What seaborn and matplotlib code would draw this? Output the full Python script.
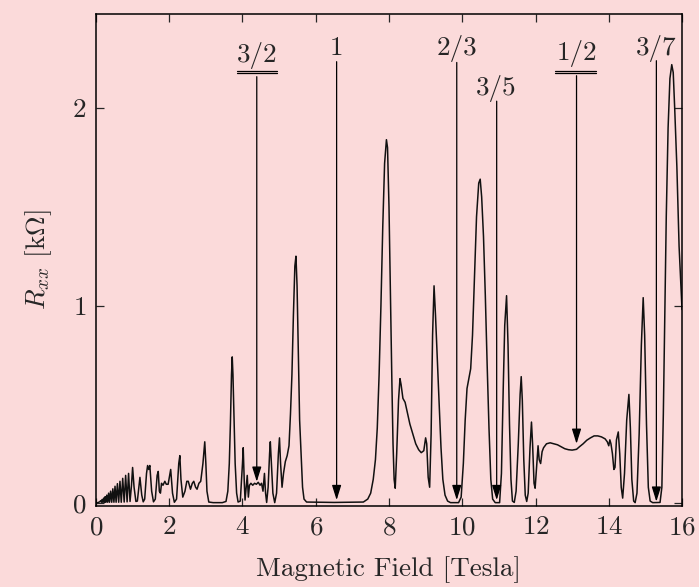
import numpy as np
import pandas as pd
import matplotlib
matplotlib.use("Agg")
import matplotlib.pyplot as plt
import seaborn as sns

# Rxx trace (field in Tesla, resistance in kOhm)
field = [
    0.00, 0.05, 0.10, 0.13, 0.15, 0.17, 0.19, 0.21, 0.23, 0.25, 0.27, 0.295, 0.32, 0.345, 0.37,
    0.40, 0.43, 0.46, 0.49, 0.52, 0.55, 0.585, 0.62, 0.655, 0.69, 0.73, 0.77, 0.81, 0.85, 0.89,
    0.93, 0.97, 1.00, 1.04, 1.09, 1.13, 1.20, 1.25, 1.29, 1.33, 1.38, 1.41, 1.44, 1.47, 1.52,
    1.57, 1.62, 1.67, 1.70, 1.73, 1.76, 1.79, 1.83, 1.88, 1.92, 1.97, 2.04, 2.09, 2.14, 2.20,
    2.26, 2.29, 2.32, 2.37, 2.43, 2.48, 2.52, 2.58, 2.63, 2.67, 2.72, 2.76, 2.81, 2.86, 2.92,
    2.97, 3.00, 3.03, 3.08, 3.20, 3.45, 3.55, 3.60, 3.64, 3.67, 3.70, 3.72, 3.74, 3.77, 3.80,
    3.84, 3.88, 3.94, 4.00, 4.02, 4.05, 4.07, 4.10, 4.13, 4.16, 4.19, 4.23, 4.28, 4.33, 4.38,
    4.43, 4.48, 4.52, 4.56, 4.60, 4.63, 4.66, 4.70, 4.74, 4.76, 4.79, 4.83, 4.88, 4.93, 4.98,
    5.01, 5.04, 5.08, 5.12, 5.17, 5.22, 5.27, 5.31, 5.35, 5.39, 5.43, 5.46, 5.49, 5.52, 5.56,
    5.60, 5.64, 5.68, 5.75, 6.50, 7.30, 7.42, 7.50, 7.57, 7.63, 7.68, 7.73, 7.78, 7.83, 7.88,
    7.93, 7.96, 8.00, 8.04, 8.08, 8.11, 8.14, 8.17, 8.21, 8.26, 8.30, 8.33, 8.38, 8.44, 8.50,
    8.57, 8.65, 8.73, 8.81, 8.88, 8.95, 9.00, 9.03, 9.07, 9.11, 9.15, 9.19, 9.23, 9.27, 9.32,
    9.37, 9.42, 9.47, 9.53, 9.60, 9.68, 9.90, 9.97, 10.03, 10.08, 10.13, 10.18, 10.23, 10.28, 10.33,
    10.39, 10.45, 10.49, 10.53, 10.58, 10.63, 10.68, 10.73, 10.78, 10.83, 10.90, 11.02, 11.07, 11.12, 11.16,
    11.21, 11.25, 11.29, 11.33, 11.37, 11.42, 11.47, 11.53, 11.58, 11.61, 11.64, 11.68, 11.72, 11.76, 11.80,
    11.85, 11.89, 11.92, 11.96, 11.99, 12.03, 12.07, 12.10, 12.14, 12.18, 12.22, 12.30, 12.40, 12.50, 12.60,
    12.70, 12.80, 12.90, 13.00, 13.12, 13.20, 13.30, 13.40, 13.50, 13.60, 13.70, 13.80, 13.90, 13.96, 14.00,
    14.03, 14.06, 14.10, 14.14, 14.17, 14.21, 14.26, 14.30, 14.34, 14.38, 14.43, 14.49, 14.55, 14.59, 14.63,
    14.68, 14.72, 14.77, 14.83, 14.89, 14.94, 14.98, 15.03, 15.08, 15.13, 15.20, 15.40, 15.45, 15.49, 15.53,
    15.57, 15.62, 15.67, 15.72, 15.76, 15.80, 15.86, 15.92, 16.00,
]
rxx = [
    0.000, 0.002, 0.006, 0.012, 0.004, 0.018, 0.004, 0.025, 0.004, 0.032, 0.004, 0.040, 0.004, 0.050, 0.004,
    0.060, 0.004, 0.072, 0.004, 0.085, 0.004, 0.098, 0.004, 0.110, 0.004, 0.125, 0.005, 0.140, 0.006, 0.150,
    0.008, 0.090, 0.180, 0.080, 0.008, 0.010, 0.130, 0.040, 0.006, 0.020, 0.150, 0.190, 0.170, 0.190, 0.060,
    0.006, 0.020, 0.140, 0.160, 0.060, 0.050, 0.100, 0.090, 0.110, 0.095, 0.095, 0.170, 0.050, 0.004, 0.020,
    0.200, 0.240, 0.120, 0.030, 0.060, 0.110, 0.110, 0.070, 0.100, 0.110, 0.080, 0.070, 0.100, 0.110, 0.200,
    0.310, 0.200, 0.060, 0.005, 0.002, 0.002, 0.008, 0.060, 0.200, 0.400, 0.650, 0.740, 0.650, 0.420, 0.200,
    0.050, 0.005, 0.010, 0.200, 0.280, 0.100, 0.015, 0.080, 0.140, 0.030, 0.090, 0.100, 0.090, 0.100, 0.095,
    0.105, 0.090, 0.100, 0.060, 0.150, 0.050, 0.003, 0.080, 0.250, 0.310, 0.200, 0.050, 0.002, 0.050, 0.250,
    0.330, 0.200, 0.080, 0.150, 0.210, 0.240, 0.290, 0.450, 0.650, 0.950, 1.200, 1.250, 1.100, 0.800, 0.420,
    0.250, 0.080, 0.020, 0.005, 0.003, 0.005, 0.020, 0.050, 0.120, 0.220, 0.380, 0.650, 1.000, 1.400, 1.720,
    1.840, 1.800, 1.500, 1.050, 0.600, 0.300, 0.120, 0.075, 0.250, 0.520, 0.630, 0.600, 0.530, 0.510, 0.460,
    0.400, 0.350, 0.300, 0.270, 0.255, 0.265, 0.330, 0.300, 0.130, 0.080, 0.350, 0.850, 1.100, 0.950, 0.720,
    0.500, 0.280, 0.120, 0.040, 0.010, 0.002, 0.002, 0.030, 0.200, 0.420, 0.580, 0.630, 0.680, 0.850, 1.120,
    1.450, 1.620, 1.640, 1.550, 1.350, 1.050, 0.700, 0.380, 0.120, 0.020, 0.002, 0.002, 0.150, 0.590, 0.900,
    1.050, 0.800, 0.400, 0.120, 0.010, 0.003, 0.060, 0.300, 0.550, 0.640, 0.520, 0.220, 0.040, 0.008, 0.050,
    0.280, 0.410, 0.300, 0.100, 0.075, 0.180, 0.290, 0.220, 0.200, 0.260, 0.280, 0.300, 0.305, 0.300, 0.295,
    0.285, 0.275, 0.270, 0.268, 0.272, 0.285, 0.300, 0.318, 0.330, 0.340, 0.340, 0.335, 0.325, 0.310, 0.290,
    0.320, 0.300, 0.250, 0.170, 0.180, 0.320, 0.360, 0.250, 0.080, 0.025, 0.150, 0.420, 0.550, 0.380, 0.120,
    0.010, 0.002, 0.050, 0.350, 0.800, 1.040, 0.850, 0.400, 0.080, 0.010, 0.002, 0.003, 0.080, 0.450, 0.950,
    1.450, 1.900, 2.150, 2.220, 2.180, 2.000, 1.700, 1.300, 0.980,
]

# filling-factor markers: label, field position, label height, arrow top, arrow tip
nu_labels = ["3/2", "1", "2/3", "3/5", "1/2", "3/7"]
nu_field = [4.39, 6.57, 9.85, 10.94, 13.12, 15.30]
nu_text_y = [2.268, 2.302, 2.302, 2.100, 2.277, 2.302]
nu_top = [2.159, 2.235, 2.231, 2.035, 2.164, 2.240]
nu_tip = [0.108, 0.015, 0.015, 0.015, 0.300, 0.007]
# even-denominator states get a double underline
double_bar = {"3/2": (3.84, 4.94), "1/2": (12.53, 13.65)}
bar_y = [2.189, 2.176]

bg = "#fbdada"
sns.set_style("ticks", rc={"axes.facecolor": bg, "figure.facecolor": bg})
plt.rcParams["font.family"] = "serif"
plt.rcParams["font.serif"] = ["cmr10", "DejaVu Serif"]
plt.rcParams["mathtext.fontset"] = "cm"
plt.rcParams["axes.formatter.use_mathtext"] = True

fs = 19.5
df = pd.DataFrame({"B": field, "R": rxx})

fig = plt.figure(figsize=(6.99, 5.87), dpi=100)
ax = fig.add_axes([0.1373, 0.138, 0.8384, 0.838])

sns.lineplot(data=df, x="B", y="R", sort=False, estimator=None,
             color="#111111", lw=1.1, ax=ax)

for lab, b, ty, top, tip in zip(nu_labels, nu_field, nu_text_y, nu_top, nu_tip):
    ax.annotate("", xy=(b, tip), xytext=(b, top),
                arrowprops=dict(arrowstyle="-|>,head_length=0.9,head_width=0.28",
                                lw=0.9, color="black", shrinkA=0, shrinkB=0))
    ax.text(b, ty, lab, ha="center", va="center", fontsize=fs)
    if lab in double_bar:
        x0, x1 = double_bar[lab]
        for yy in bar_y:
            ax.plot([x0, x1], [yy, yy], color="black", lw=0.9)

ax.set_xlim(0, 16)
ax.set_ylim(-0.015, 2.476)
ax.set_xticks(np.arange(0, 17, 2))
ax.set_yticks([0, 1, 2])
ax.tick_params(direction="in", length=6, width=0.9, labelsize=fs,
               top=True, right=True, pad=7)
for s in ax.spines.values():
    s.set_linewidth(1.1)
    s.set_color("black")

ax.set_xlabel("Magnetic Field [Tesla]", fontsize=fs, labelpad=12)
ax.set_ylabel(r"$R_{xx}$ [k$\Omega$]", fontsize=fs, labelpad=13)

fig.savefig("out.png", dpi=100, facecolor=bg)
